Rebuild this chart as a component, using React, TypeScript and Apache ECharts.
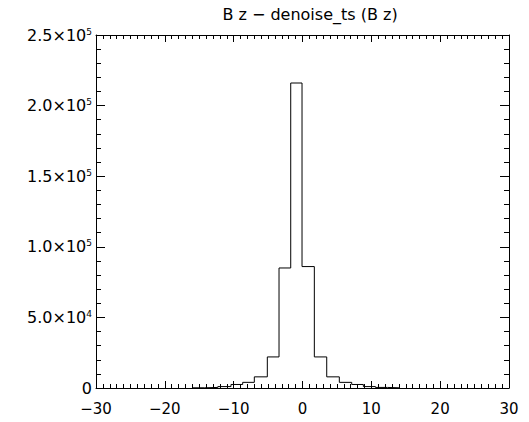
import React, { useEffect, useRef } from "react";
import * as echarts from "echarts";

const titleText = "B z \u2212 denoise_ts (B z)";
const binEdges = [-16.05, -14.2, -12.3, -10.39, -8.69, -7.0, -5.11, -3.41, -1.71, -0.07, 1.72, 3.52, 5.35, 7.15, 8.84, 10.6, 12.35, 14.07];
const binCounts = [150, 400, 1000, 2500, 4000, 7900, 22000, 85000, 216000, 86000, 22000, 7900, 4000, 2500, 1000, 400, 150];
const xTickValues = [-30, -20, -10, 0, 10, 20, 30];
const xTickLabels = ["\u221230", "\u221220", "\u221210", "0", "10", "20", "30"];
const yTickValues = [0, 50000, 100000, 150000, 200000, 250000];
const yTickMantissa = ["0", "5.0\u00d710", "1.0\u00d710", "1.5\u00d710", "2.0\u00d710", "2.5\u00d710"];
const yTickExponent = ["", "4", "5", "5", "5", "5"];

const FONT = "DejaVu Sans";

export default function App() {
  const ref = useRef<HTMLDivElement>(null);
  useEffect(() => {
    if (!ref.current) return;
    const chart = echarts.init(ref.current, null, { renderer: "svg" });
    const pts: number[][] = [];
    for (let i = 0; i < binCounts.length; i++) {
      pts.push([binEdges[i], binCounts[i]]);
      pts.push([binEdges[i + 1], binCounts[i]]);
    }
    const xLab = (v: number) => {
      const i = xTickValues.indexOf(Math.round(v));
      return i >= 0 ? xTickLabels[i] : "";
    };
    const yLab = (v: number) => {
      const i = yTickValues.indexOf(Math.round(v));
      if (i < 0) return "";
      return yTickExponent[i] ? `{m|${yTickMantissa[i]}}{s|${yTickExponent[i]}}` : `{m|${yTickMantissa[i]}}`;
    };
    const axisLine = { show: true, onZero: false, lineStyle: { color: "#000", width: 1 } };
    const xCommon = {
      type: "value" as const,
      min: -30,
      max: 30,
      interval: 10,
      axisLine,
      splitLine: { show: false },
      axisTick: { show: true, inside: true, length: 7, lineStyle: { color: "#000" } },
      minorTick: { show: true, splitNumber: 10, length: 4, lineStyle: { color: "#000" } },
    };
    const yCommon = {
      type: "value" as const,
      min: 0,
      max: 250000,
      interval: 50000,
      axisLine,
      splitLine: { show: false },
      axisTick: { show: true, inside: true, length: 9, lineStyle: { color: "#000" } },
      minorTick: { show: true, splitNumber: 5, length: 5, lineStyle: { color: "#000" } },
    };
    chart.setOption({
      animation: false,
      backgroundColor: "#fff",
      title: {
        text: titleText,
        left: 305,
        top: 1,
        textAlign: "center",
        textStyle: { fontFamily: FONT, fontSize: 16, fontWeight: "normal", color: "#000" },
      },
      grid: { left: 96, right: 20, top: 35, bottom: 34 },
      xAxis: [
        {
          ...xCommon,
          position: "bottom",
          axisLabel: { show: true, formatter: xLab, margin: 13, fontFamily: FONT, fontSize: 15, color: "#000" },
        },
        { ...xCommon, position: "top", axisLabel: { show: false } },
      ],
      yAxis: [
        {
          ...yCommon,
          position: "left",
          axisLabel: {
            show: true,
            formatter: yLab,
            margin: 4,
            color: "#000",
            rich: {
              m: { fontFamily: FONT, fontSize: 16, color: "#000", verticalAlign: "bottom" },
              s: { fontFamily: FONT, fontSize: 9, color: "#000", verticalAlign: "top" },
            },
          },
        },
        { ...yCommon, position: "right", axisLabel: { show: false } },
      ],
      series: [
        {
          type: "line",
          xAxisIndex: 0,
          yAxisIndex: 0,
          data: pts,
          symbol: "none",
          silent: true,
          lineStyle: { color: "#000", width: 1 },
        },
      ],
    });
    return () => chart.dispose();
  }, []);
  return (
    <div
      ref={ref}
      style={{ position: "fixed", left: 0, top: 0, width: 529, height: 422, background: "#fff" }}
    />
  );
}
